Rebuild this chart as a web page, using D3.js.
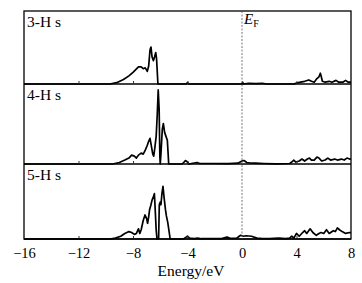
<!DOCTYPE html>
<html><head><meta charset="utf-8">
<script src="https://cdn.jsdelivr.net/npm/d3@7"></script>
<style>
html,body{margin:0;padding:0;background:#fff;}
svg{display:block;}
svg text{font-family:"Liberation Serif","Times New Roman",serif !important;fill:#000;}
</style></head>
<body>
<svg id="chart" width="362" height="283"></svg>
<script>
// ---- data (energy in eV, DOS in arbitrary units) ----
const panelLabels = ["3-H s", "4-H s", "5-H s"];
const xTicks = [-16, -12, -8, -4, 0, 4, 8];
const xLabel = "Energy/eV";
const fermiLabel = "E";

const energy3 = [-16,-9.7,-9.2,-8.7,-8.3,-8.0,-7.8,-7.6,-7.4,-7.25,-7.1,-6.95,-6.85,-6.75,-6.68,-6.6,-6.5,-6.42,-6.33,-6.27,-6.2,-6.17,-5.0,-4.1,-4.0,-3.9,-1.5,0,0.05,0.1,0.5,1.0,1.5,1.8,3.8,4.0,4.3,4.6,4.9,5.1,5.3,5.5,5.65,5.75,5.82,5.9,6.1,6.4,6.6,6.9,7.1,7.4,7.6,7.8,8];
const dos3    = [0,0,1.5,5,9,13,16,19,19,17,18,14,20,38,41,30,26,30,35,28,8,0,0,0,1.5,0,0,0,2,0,0.8,0.5,0.8,0,0,1,2,3,4.5,3,2,6,8,12,8,3,2,3,2,4,2,2,4,2,2];

const energy4 = [-16,-9.5,-9.0,-8.6,-8.3,-8.1,-7.9,-7.75,-7.6,-7.4,-7.25,-7.1,-6.95,-6.85,-6.75,-6.65,-6.55,-6.48,-6.4,-6.3,-6.22,-6.15,-6.08,-6.03,-6.0,-5.95,-5.85,-5.77,-5.68,-5.58,-5.48,-5.42,-5.38,-4.4,-4.25,-4.15,-4.0,-3.9,-3.5,-3.3,-3.1,-2,-1,-0.3,0,0.15,0.35,0.6,1.0,1.6,2.5,3.5,3.65,3.8,3.95,4.2,4.4,4.6,4.8,4.95,5.1,5.3,5.5,5.65,5.85,6.1,6.3,6.5,6.8,7.0,7.3,7.5,7.7,7.9,8];
const dos4    = [0,0,1.5,4,6,9,8,6,9,11,10,14,19,23,26,18,10,8,16,28,50,75,55,8,0,10,35,41,32,28,24,10,0,0,2,3.5,2,0,1,1.5,0.5,0.5,0.3,0.8,3,3.5,1.5,1,0.8,0.5,0.2,0.5,2,4,2,3,5,3,5,6,4,4,7,6,3,4,6,4,5,4,5,4,6,5,5];

const energy5 = [-16,-9.7,-9.3,-8.9,-8.6,-8.3,-8.1,-7.9,-7.75,-7.6,-7.5,-7.4,-7.25,-7.12,-7.0,-6.93,-6.85,-6.78,-6.7,-6.6,-6.5,-6.43,-6.38,-6.3,-6.24,-6.12,-6.07,-6.0,-5.95,-5.87,-5.8,-5.72,-5.62,-5.55,-5.45,-5.35,-5.27,-4.3,-4.1,-4.0,-3.85,-3.5,-3.25,-3,-1.5,-1.1,-0.9,-0.4,-0.1,0.1,0.3,0.7,1.1,1.5,2.0,2.7,3.2,3.5,3.65,3.8,4.0,4.2,4.45,4.6,4.75,5.0,5.2,5.45,5.65,5.8,6.0,6.2,6.4,6.7,6.85,7.0,7.15,7.35,7.6,7.9,8];
const dos5    = [0,0,1,3,6,8,7,5,6,11,6,10,20,26,22,17,24,32,36,42,46,49,35,10,0,0,37,40,37,50,57,45,32,25,18,8,0,0,2,3,1,0.5,1,0.3,0.5,2,1,0.8,4,3,3.5,3,1,0.5,0.3,1,0.5,1,3,1,6,3,7,9,6,11,7,4,6,7,6,10,6,9,8,12,10,8,6,7,7];

const panels = [
  {label: panelLabels[0], energy: energy3, dos: dos3},
  {label: panelLabels[1], energy: energy4, dos: dos4},
  {label: panelLabels[2], energy: energy5, dos: dos5}
];

// ---- layout ----
const svg = d3.select("#chart");
const mLeft = 24, mRight = 351, mTop = 11, mBottom = 239;
const bounds = [[11, 84], [84, 164], [164, 239]];

const x = d3.scaleLinear().domain([-16, 8]).range([mLeft, mRight]);

panels.forEach((p, i) => {
  const [t, b] = bounds[i];
  const y = d3.scaleLinear().domain([0, 80]).range([b, t + 1]);
  const g = svg.append("g");
  const pts = p.energy.map((e, k) => [e, p.dos[k]]);
  g.append("path")
    .datum(pts)
    .attr("fill", "none")
    .attr("stroke", "#000")
    .attr("stroke-width", 1.7)
    .attr("stroke-linejoin", "round")
    .attr("d", d3.line().x(d => x(d[0])).y(d => y(d[1])));
  g.append("line").attr("x1", mLeft).attr("x2", mRight).attr("y1", b).attr("y2", b)
    .attr("stroke", "#000").attr("stroke-width", 1.5);
  const axis = d3.axisBottom(x).tickValues(xTicks.filter(v => v > -16 && v < 8 && v !== 0))
    .tickSize(-3).tickFormat("");
  const ag = g.append("g").attr("transform", `translate(0,${b})`).call(axis);
  ag.select(".domain").remove();
  ag.selectAll(".tick line").attr("stroke", "#333").attr("stroke-width", 1);
  g.append("text").attr("x", 27).attr("y", t + 16).attr("font-size", 15.5).text(p.label);
});

svg.append("rect").attr("x", mLeft).attr("y", mTop).attr("width", mRight - mLeft).attr("height", mBottom - mTop)
  .attr("fill", "none").attr("stroke", "#000").attr("stroke-width", 1.3);

svg.append("line").attr("x1", x(0)).attr("x2", x(0)).attr("y1", mTop).attr("y2", mBottom)
  .attr("stroke", "#555").attr("stroke-width", 0.8).attr("stroke-dasharray", "2,1.5");
const ef = svg.append("text").attr("x", x(0) + 2).attr("y", 24).attr("font-size", 15);
ef.append("tspan").attr("font-style", "italic").text(fermiLabel);
ef.append("tspan").attr("font-size", 10).attr("dy", 3).text("F");

const xa = d3.axisBottom(x).tickValues(xTicks).tickSize(0).tickPadding(9)
  .tickFormat(d => d < 0 ? "\u2212" + Math.abs(d) : String(d));
const xg = svg.append("g").attr("transform", `translate(0,${mBottom})`).call(xa);
xg.select(".domain").remove();
xg.selectAll("text").attr("font-size", 14.5).attr("fill", "#000");

svg.append("text").attr("x", 191).attr("y", 276).attr("text-anchor", "middle").attr("font-size", 15.5).text(xLabel);
</script>
</body></html>
